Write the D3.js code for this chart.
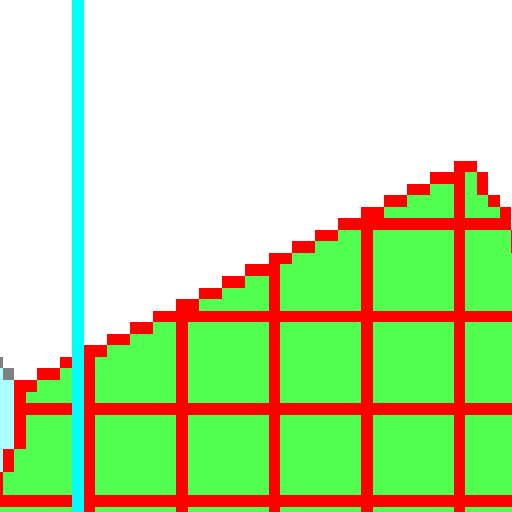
<!DOCTYPE html>
<html>
<head>
<meta charset="utf-8">
<script src="https://cdn.jsdelivr.net/npm/d3@7"></script>
<style>
	html, body { margin: 0; padding: 0; background: #ffffff; overflow: hidden; }
	svg { display: block; }
</style>
</head>
<body>
<div id="chart"></div>
<script>
// chart values, in chart units (one grid step = 1)
var gridX = [1, 2, 3, 4, 5];
var gridY = [0, 1, 2, 3, 4];
var refLineX = 0.875;

// front series (green, red outline, red grid inside)
var areaX = [0.1875, 5.134, 7.84, -0.44, 0.1875];
var areaY = [1.25, 3.725, -0.6, -0.6, 0.65];

// back series (light cyan, gray outline)
var backX = [-1.56, 0.44, 0.44, -1.56];
var backY = [3.09, 1.09, 0.19, -0.81];

var width = 512, height = 512;
var cols = 46, rows = 45;

// chart units -> coarse pixel grid
var x = d3.scaleLinear().domain([0, 1]).range([0.5, 8.5]);
var y = d3.scaleLinear().domain([0, 1]).range([43.5, 35.5]);

// coarse pixel grid -> screen
var sx = d3.scaleLinear().domain([0, 1]).range([-8.9, -8.9 + 11.56]);
var sy = d3.scaleLinear().domain([0, 1]).range([-1.2, -1.2 + 11.55]);

var colors = {
	background: "#ffffff",
	backFill: "#aaffff",
	backStroke: "#808080",
	areaFill: "#50ff50",
	areaStroke: "#ff0000",
	grid: "#ff0000",
	refLine: "#00ffff"
};

function toPoly(xs, ys) {
	return xs.map(function(d, i) { return [x(d), y(ys[i])]; });
}

var areaPoly = toPoly(areaX, areaY);
var backPoly = toPoly(backX, backY);

function inside(poly, c, r) {
	return d3.polygonContains(poly, [c + 0.5, r + 0.5]);
}

function onEdge(poly, c, r) {
	return inside(poly, c, r) && (
		!inside(poly, c - 1, r) || !inside(poly, c + 1, r) ||
		!inside(poly, c, r - 1) || !inside(poly, c, r + 1));
}

function onGrid(c, r) {
	var vx = gridX.some(function(t) { return Math.abs(x(t) - (c + 0.5)) < 0.5; });
	var vy = gridY.some(function(t) { return Math.abs(y(t) - (r + 0.5)) < 0.5; });
	return vx || vy;
}

function pixelColor(c, r) {
	if (Math.abs(x(refLineX) - (c + 0.5)) < 0.5) return colors.refLine;
	if (inside(areaPoly, c, r)) {
		if (onEdge(areaPoly, c, r)) return colors.areaStroke;
		if (onGrid(c, r)) return colors.grid;
		return colors.areaFill;
	}
	if (inside(backPoly, c, r)) {
		return onEdge(backPoly, c, r) ? colors.backStroke : colors.backFill;
	}
	return null;
}

var cells = [];
for (var r = 0; r < rows; r++) {
	for (var c = 0; c < cols; c++) {
		var col = pixelColor(c, r);
		if (col) cells.push({ c: c, r: r, color: col });
	}
}

var svg = d3.select("#chart").append("svg")
	.attr("width", width)
	.attr("height", height)
	.attr("shape-rendering", "crispEdges");

svg.append("rect")
	.attr("width", width)
	.attr("height", height)
	.attr("fill", colors.background);

svg.append("g").selectAll("rect")
	.data(cells)
	.join("rect")
	.attr("x", function(d) { return Math.round(sx(d.c)); })
	.attr("y", function(d) { return Math.round(sy(d.r)); })
	.attr("width", function(d) { return Math.round(sx(d.c + 1)) - Math.round(sx(d.c)); })
	.attr("height", function(d) { return Math.round(sy(d.r + 1)) - Math.round(sy(d.r)); })
	.attr("fill", function(d) { return d.color; });
</script>
</body>
</html>
